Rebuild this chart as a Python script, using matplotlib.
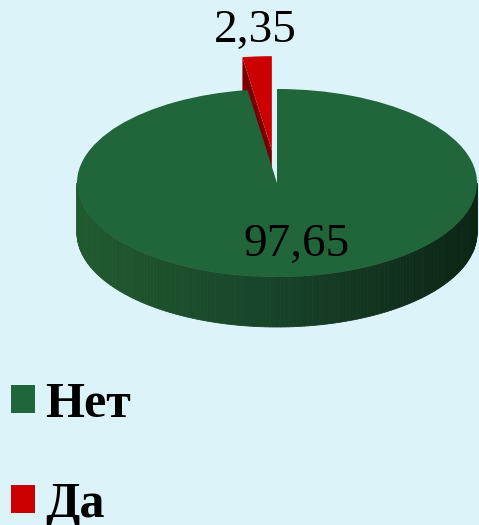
import numpy as np
import matplotlib
matplotlib.use("Agg")
import matplotlib.pyplot as plt
from matplotlib.patches import Polygon
from matplotlib.colors import to_rgb

# ---- data ----
categories = ["Нет", "Да"]
values = [97.65, 2.35]
colors = ["#21653a", "#cc0000"]
explode = [0.0, 0.35]

BG = "#dcf4f9"
W, H = 479, 525
fig = plt.figure(figsize=(W / 100, H / 100), dpi=100, facecolor=BG)
ax = fig.add_axes([0, 0, 1, 1])
ax.set_facecolor(BG)

# start so that "Да" ends at 90 deg (top)
start = 90 + 360 * values[1] / sum(values)
wedges, _ = ax.pie(values, colors=colors, startangle=start, counterclock=True,
                   explode=explode, wedgeprops=dict(linewidth=0), frame=False)

# ellipse projection: 1 unit = 200 px horizontally, 94 px vertically
cx, cy, rx, ry = 277, 183, 200, 94
ax.set_aspect("auto")
ax.set_xlim(-cx / rx, (W - cx) / rx)
ax.set_ylim(-(H - cy) / ry, cy / ry)
ax.axis("off")

depth = 50 / ry

# green side wall (front half) with gradient
gw = wedges[0]
a0, a1 = max(gw.theta1, 180), min(gw.theta2, 360)
n = 160
angs = np.linspace(a0, a1, n + 1)
cL, cM, cR = np.array(to_rgb("#205a2f")), np.array(to_rgb("#18432a")), np.array(to_rgb("#0b2414"))
for i in range(n):
    t0, t1 = np.radians(angs[i]), np.radians(angs[i + 1])
    xs0, xs1 = np.cos(t0), np.cos(t1)
    ys0, ys1 = np.sin(t0), np.sin(t1)
    f = ((xs0 + xs1) / 2 + 1) / 2
    if f < 0.5:
        col = cL + (cM - cL) * (f / 0.5)
    else:
        col = cM + (cR - cM) * ((f - 0.5) / 0.5)
    poly = Polygon([(xs0, ys0), (xs1, ys1), (xs1, ys1 - depth), (xs0, ys0 - depth)],
                   closed=True, facecolor=col, edgecolor=col, linewidth=0.6, zorder=1)
    ax.add_patch(poly)

# red wedge: radial cut face on left side
rw = wedges[1]
rcx, rcy = rw.center
th = np.radians(rw.theta2)
ex, ey = rcx + rw.r * np.cos(th), rcy + rw.r * np.sin(th)
face = Polygon([(rcx, rcy), (ex, ey), (ex, ey - depth), (rcx, rcy - depth)],
               closed=True, facecolor="#7a0000", edgecolor="none", zorder=1.5)
ax.add_patch(face)

gw.set_zorder(3)
rw.set_zorder(4)

def fmt(v):
    return f"{v:.2f}".replace(".", ",")

num_font = dict(family="Liberation Serif", size=34, color="black")
ax.text(0.10, -0.66, fmt(values[0]), ha="center", va="center", zorder=5, **num_font)
ax.text(-0.11, 1.62, fmt(values[1]), ha="center", va="center", zorder=5, **num_font)

leg = fig.legend(wedges, categories, loc="upper left",
                 bbox_to_anchor=(11 / W, 1 - 382 / H), frameon=False,
                 prop=dict(family="Liberation Serif", weight="bold", size=36),
                 handlelength=0.48, handleheight=0.48, handletextpad=0.2,
                 labelspacing=1.07, borderpad=0, borderaxespad=0)

fig.savefig("out.png", dpi=100, facecolor=BG)
